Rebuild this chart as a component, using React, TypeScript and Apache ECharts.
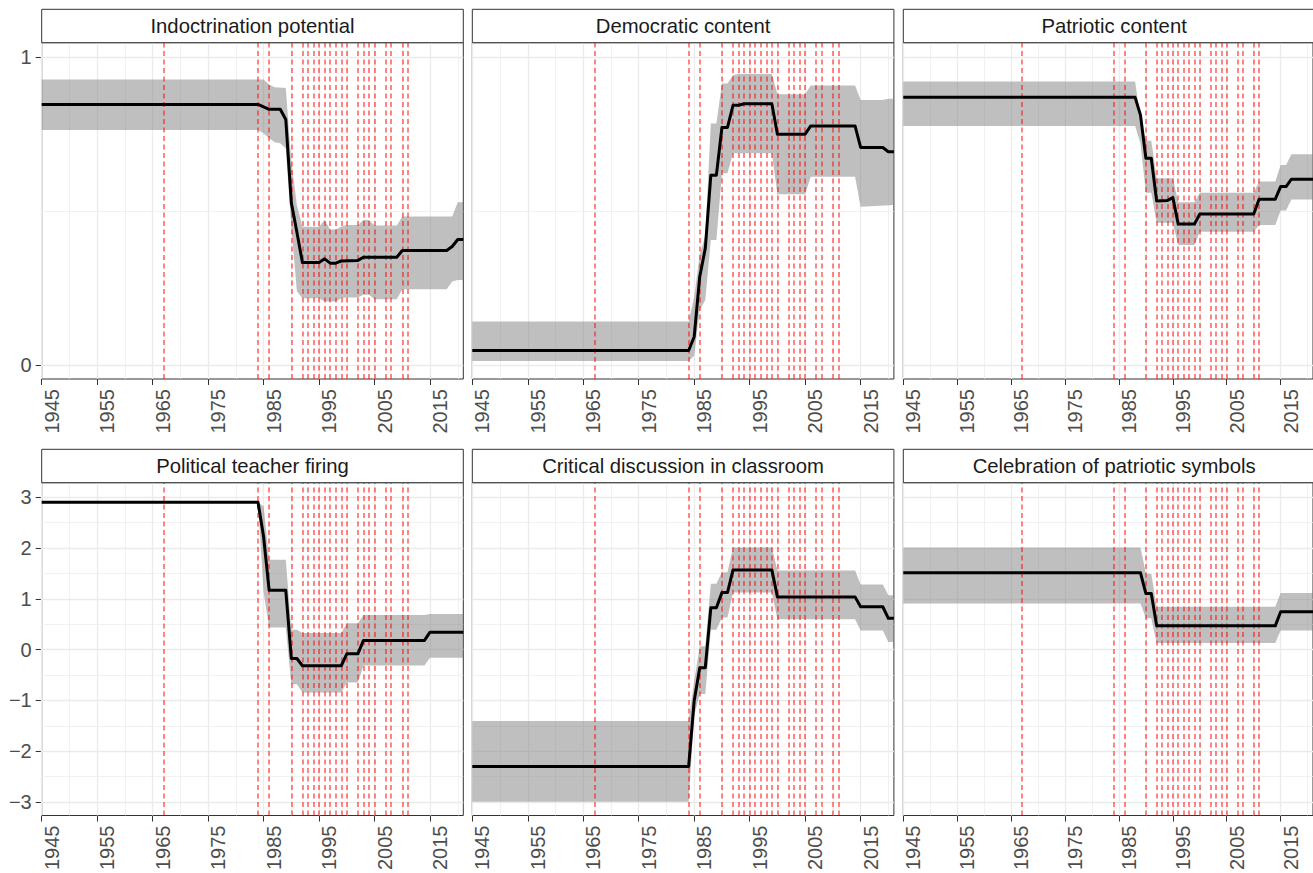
import React, { useEffect, useRef } from "react";
import * as echarts from "echarts";

const FONT = "'Liberation Sans', Arial, Helvetica, sans-serif";

const X_MIN = 1945;
const X_MAX = 2021;
const xTickYears = [1945, 1955, 1965, 1975, 1985, 1995, 2005, 2015];
const xMinorYears = [1950, 1960, 1970, 1980, 1990, 2000, 2010, 2020];
const eventYears = [
  1967, 1984, 1986, 1990, 1992, 1993, 1994, 1995, 1996, 1997, 1998, 1999, 2000,
  2002, 2003, 2004, 2005, 2007, 2008, 2010, 2011,
];

const topYTicks = [0, 1];
const topYMinor = [0.5];
const bottomYTicks = [-3, -2, -1, 0, 1, 2, 3];
const bottomYMinor = [-2.5, -1.5, -0.5, 0.5, 1.5, 2.5];

const panelTitles = [
  "Indoctrination potential",
  "Democratic content",
  "Patriotic content",
  "Political teacher firing",
  "Critical discussion in classroom",
  "Celebration of patriotic symbols",
];

// 1. Indoctrination potential
const indocLine = [[1945, 0.847], [1984, 0.847], [1985, 0.839], [1986, 0.831], [1988, 0.831], [1989, 0.798], [1990, 0.527], [1991, 0.432], [1992, 0.333], [1995, 0.333], [1996, 0.345], [1997, 0.331], [1998, 0.331], [1999, 0.338], [2002, 0.340], [2003, 0.350], [2009, 0.350], [2010, 0.372], [2018, 0.372], [2019, 0.385], [2020, 0.408], [2021, 0.408]];
const indocUpper = [[1945, 0.928], [1985, 0.928], [1986, 0.912], [1987, 0.903], [1989, 0.9], [1990, 0.66], [1991, 0.52], [1992, 0.449], [1995, 0.449], [1996, 0.471], [1997, 0.44], [1998, 0.44], [1999, 0.449], [2000, 0.455], [2002, 0.455], [2003, 0.471], [2004, 0.471], [2005, 0.453], [2009, 0.453], [2010, 0.483], [2019, 0.483], [2020, 0.529], [2021, 0.529]];
const indocLower = [[1945, 0.764], [1984, 0.764], [1985, 0.753], [1986, 0.737], [1987, 0.724], [1988, 0.721], [1989, 0.704], [1990, 0.45], [1991, 0.24], [1992, 0.217], [1995, 0.217], [1996, 0.206], [1998, 0.206], [1999, 0.217], [2000, 0.219], [2002, 0.219], [2003, 0.228], [2004, 0.228], [2005, 0.214], [2009, 0.214], [2010, 0.246], [2018, 0.246], [2019, 0.271], [2020, 0.276], [2021, 0.276]];

// 2. Democratic content
const demoLine = [[1945, 0.047], [1984, 0.047], [1985, 0.092], [1986, 0.287], [1987, 0.379], [1988, 0.617], [1989, 0.617], [1990, 0.772], [1991, 0.772], [1992, 0.844], [1993, 0.844], [1994, 0.849], [1999, 0.849], [2000, 0.75], [2005, 0.75], [2006, 0.777], [2014, 0.777], [2015, 0.707], [2019, 0.707], [2020, 0.693], [2021, 0.693]];
const demoUpper = [[1945, 0.141], [1984, 0.141], [1985, 0.22], [1986, 0.36], [1987, 0.42], [1988, 0.785], [1989, 0.785], [1990, 0.915], [1991, 0.915], [1992, 0.942], [1993, 0.946], [1999, 0.946], [2000, 0.88], [2005, 0.88], [2006, 0.908], [2014, 0.908], [2015, 0.861], [2019, 0.861], [2020, 0.865], [2021, 0.865]];
const demoLower = [[1945, 0.013], [1984, 0.013], [1985, 0.03], [1986, 0.179], [1987, 0.211], [1988, 0.406], [1989, 0.406], [1990, 0.623], [1991, 0.623], [1992, 0.688], [1999, 0.688], [2000, 0.555], [2005, 0.555], [2006, 0.612], [2014, 0.612], [2015, 0.514], [2021, 0.52]];

// 3. Patriotic content
const patLine = [[1945, 0.87], [1988, 0.87], [1989, 0.812], [1990, 0.672], [1991, 0.672], [1992, 0.533], [1994, 0.535], [1995, 0.544], [1996, 0.458], [1999, 0.458], [2000, 0.491], [2010, 0.491], [2011, 0.539], [2014, 0.539], [2015, 0.58], [2016, 0.58], [2017, 0.604], [2021, 0.604]];
const patUpper = [[1945, 0.921], [1988, 0.921], [1989, 0.8], [1990, 0.729], [1991, 0.729], [1992, 0.607], [1995, 0.607], [1996, 0.529], [1999, 0.529], [2000, 0.56], [2010, 0.56], [2011, 0.596], [2014, 0.596], [2015, 0.65], [2016, 0.65], [2017, 0.685], [2021, 0.685]];
const patLower = [[1945, 0.777], [1988, 0.777], [1989, 0.72], [1990, 0.56], [1991, 0.56], [1992, 0.462], [1995, 0.462], [1996, 0.39], [1999, 0.39], [2000, 0.433], [2010, 0.433], [2011, 0.455], [2014, 0.455], [2015, 0.502], [2016, 0.502], [2017, 0.538], [2021, 0.538]];

// 4. Political teacher firing
const fireLine = [[1945, 2.897], [1984, 2.897], [1985, 2.22], [1986, 1.167], [1989, 1.167], [1990, -0.175], [1991, -0.175], [1992, -0.318], [1999, -0.318], [2000, -0.084], [2002, -0.084], [2003, 0.181], [2014, 0.181], [2015, 0.343], [2021, 0.343]];
const fireUpper = [[1984, 2.897], [1985, 2.82], [1986, 1.769], [1989, 1.769], [1990, 0.389], [1991, 0.389], [1992, 0.324], [1999, 0.324], [2000, 0.518], [2002, 0.518], [2003, 0.68], [2014, 0.68], [2015, 0.7], [2021, 0.7]];
const fireLower = [[1984, 2.897], [1985, 1.13], [1986, 0.434], [1989, 0.434], [1990, -0.68], [1991, -0.68], [1992, -0.843], [1999, -0.843], [2000, -0.648], [2002, -0.648], [2003, -0.311], [2014, -0.311], [2015, -0.162], [2021, -0.162]];

// 5. Critical discussion in classroom
const critLine = [[1945, -2.3], [1984, -2.3], [1985, -1.005], [1986, -0.356], [1987, -0.356], [1988, 0.823], [1989, 0.823], [1990, 1.121], [1991, 1.121], [1992, 1.568], [1999, 1.568], [2000, 1.037], [2014, 1.037], [2015, 0.843], [2019, 0.843], [2020, 0.616], [2021, 0.616]];
const critUpper = [[1945, -1.406], [1984, -1.406], [1985, -0.62], [1986, 0.065], [1987, 0.065], [1988, 1.296], [1989, 1.296], [1990, 1.523], [1991, 1.523], [1992, 2.009], [1999, 2.009], [2000, 1.555], [2014, 1.555], [2015, 1.283], [2019, 1.283], [2020, 1.069], [2021, 1.069]];
const critLower = [[1945, -2.994], [1984, -2.994], [1985, -1.3], [1986, -0.875], [1987, -0.875], [1988, 0.389], [1989, 0.389], [1990, 0.629], [1991, 0.629], [1992, 1.121], [1999, 1.121], [2000, 0.596], [2014, 0.596], [2015, 0.376], [2019, 0.376], [2020, 0.149], [2021, 0.149]];

// 6. Celebration of patriotic symbols
const celLine = [[1945, 1.51], [1989, 1.51], [1990, 1.102], [1991, 1.102], [1992, 0.467], [2014, 0.467], [2015, 0.745], [2021, 0.745]];
const celUpper = [[1945, 2.009], [1989, 2.009], [1990, 1.491], [1991, 1.491], [1992, 0.843], [2014, 0.843], [2015, 1.115], [2021, 1.115]];
const celLower = [[1945, 0.907], [1989, 0.907], [1990, 0.616], [1991, 0.616], [1992, 0.13], [2014, 0.13], [2015, 0.376], [2021, 0.376]];

const panelData = [
  { line: indocLine, upper: indocUpper, lower: indocLower },
  { line: demoLine, upper: demoUpper, lower: demoLower },
  { line: patLine, upper: patUpper, lower: patLower },
  { line: fireLine, upper: fireUpper, lower: fireLower },
  { line: critLine, upper: critUpper, lower: critLower },
  { line: celLine, upper: celUpper, lower: celLower },
];

// layout (pixels)
const COL_LEFT = [41.7, 472.3, 903.3];
const PANEL_W = 421.6;
const ROW_TOP = [42.7, 482.7];
const PANEL_H = [336.3, 336.6];
const STRIP_H = 33.4;
const Y_RANGE = [
  [-0.0455, 1.0475],
  [-3.265, 3.284],
];

const GRID_COLOR = "#EBEBEB";
const AXIS_FONT = 20;

function buildOption() {
  const grids: any[] = [];
  const xAxes: any[] = [];
  const yAxes: any[] = [];
  const series: any[] = [];
  const graphics: any[] = [];

  panelData.forEach((p, i) => {
    const r = Math.floor(i / 3);
    const c = i % 3;
    const yTicks = r === 0 ? topYTicks : bottomYTicks;
    const yMinor = r === 0 ? topYMinor : bottomYMinor;

    grids.push({
      left: COL_LEFT[c],
      top: ROW_TOP[r],
      width: PANEL_W,
      height: PANEL_H[r],
      show: true,
      backgroundColor: "#ffffff",
      borderColor: "#333333",
      borderWidth: 1,
      containLabel: false,
    });

    xAxes.push({
      type: "value",
      gridIndex: i,
      min: X_MIN,
      max: X_MAX,
      splitLine: { show: false },
      axisLine: { show: false, onZero: false },
      axisTick: {
        show: true,
        customValues: xTickYears,
        length: 6,
        lineStyle: { color: "#333333", width: 1 },
      },
      axisLabel: {
        show: true,
        customValues: xTickYears,
        rotate: 90,
        margin: 10,
        fontSize: AXIS_FONT,
        color: "#4D4D4D",
        fontFamily: FONT,
        align: "right",
        verticalAlign: "top",
        showMinLabel: true,
        showMaxLabel: true,
        hideOverlap: false,
        formatter: (v: number) => String(v),
      },
    });

    yAxes.push({
      type: "value",
      gridIndex: i,
      min: Y_RANGE[r][0],
      max: Y_RANGE[r][1],
      splitLine: { show: false },
      axisLine: { show: false, onZero: false },
      axisTick: {
        show: c === 0,
        customValues: yTicks,
        length: 6,
        lineStyle: { color: "#333333", width: 1 },
      },
      axisLabel: {
        show: c === 0,
        customValues: yTicks,
        margin: 10,
        fontSize: AXIS_FONT,
        color: "#4D4D4D",
        fontFamily: FONT,
        formatter: (v: number) => String(v).replace("-", "\u2212"),
      },
    });

    // background grid lines (major + minor) drawn through the axes' scales
    const gridLines: any[] = [];
    xTickYears.forEach((v) =>
      gridLines.push({ xAxis: v, lineStyle: { color: GRID_COLOR, width: 1.3, type: "solid" } })
    );
    xMinorYears.forEach((v) =>
      gridLines.push({ xAxis: v, lineStyle: { color: GRID_COLOR, width: 0.7, type: "solid" } })
    );
    yTicks.forEach((v) =>
      gridLines.push({ yAxis: v, lineStyle: { color: GRID_COLOR, width: 1.3, type: "solid" } })
    );
    yMinor.forEach((v) =>
      gridLines.push({ yAxis: v, lineStyle: { color: GRID_COLOR, width: 0.7, type: "solid" } })
    );

    series.push({
      type: "line",
      xAxisIndex: i,
      yAxisIndex: i,
      data: [],
      silent: true,
      z: 1,
      markLine: {
        silent: true,
        z: 1,
        symbol: ["none", "none"],
        label: { show: false },
        emphasis: { disabled: true },
        data: gridLines,
      },
    });

    // ribbon
    series.push({
      type: "custom",
      xAxisIndex: i,
      yAxisIndex: i,
      silent: true,
      z: 2,
      data: [p.upper[0]],
      renderItem: (_params: any, api: any) => {
        const pts = p.upper
          .map((d) => api.coord(d))
          .concat(p.lower.slice().reverse().map((d) => api.coord(d)));
        return {
          type: "polygon",
          shape: { points: pts },
          style: { fill: "rgba(128,128,128,0.5)", stroke: null },
        };
      },
    });

    // red event lines
    series.push({
      type: "line",
      xAxisIndex: i,
      yAxisIndex: i,
      data: [],
      silent: true,
      z: 3,
      markLine: {
        silent: true,
        z: 3,
        symbol: ["none", "none"],
        label: { show: false },
        emphasis: { disabled: true },
        lineStyle: { color: "rgba(255,0,0,0.6)", width: 1.6, type: [5, 3.5] },
        data: eventYears.map((y) => ({ xAxis: y })),
      },
    });

    // estimate line
    series.push({
      type: "line",
      xAxisIndex: i,
      yAxisIndex: i,
      data: p.line,
      showSymbol: false,
      symbol: "none",
      silent: true,
      z: 4,
      lineStyle: { color: "#000000", width: 3, join: "round" },
      emphasis: { disabled: true },
    });

    // facet strip
    graphics.push({
      type: "rect",
      z: 10,
      shape: {
        x: COL_LEFT[c],
        y: ROW_TOP[r] - STRIP_H,
        width: PANEL_W,
        height: STRIP_H,
      },
      style: { fill: "#ffffff", stroke: "#333333", lineWidth: 1 },
      silent: true,
    });
    graphics.push({
      type: "text",
      z: 11,
      x: COL_LEFT[c] + PANEL_W / 2,
      y: ROW_TOP[r] - STRIP_H / 2,
      silent: true,
      style: {
        text: panelTitles[i],
        fill: "#1A1A1A",
        fontSize: 20.3,
        fontFamily: FONT,
        align: "center",
        verticalAlign: "middle",
      },
    });
  });

  return {
    animation: false,
    backgroundColor: "#ffffff",
    textStyle: { fontFamily: FONT },
    grid: grids,
    xAxis: xAxes,
    yAxis: yAxes,
    series,
    graphic: graphics,
  };
}

export default function App() {
  const ref = useRef<HTMLDivElement>(null);
  useEffect(() => {
    if (!ref.current) return;
    const chart = echarts.init(ref.current, null, {
      renderer: "svg",
      width: 1313,
      height: 873,
    });
    chart.setOption(buildOption() as any);
    return () => chart.dispose();
  }, []);
  return (
    <div
      ref={ref}
      style={{
        position: "fixed",
        left: 0,
        top: 0,
        width: 1313,
        height: 873,
        background: "#ffffff",
      }}
    />
  );
}
